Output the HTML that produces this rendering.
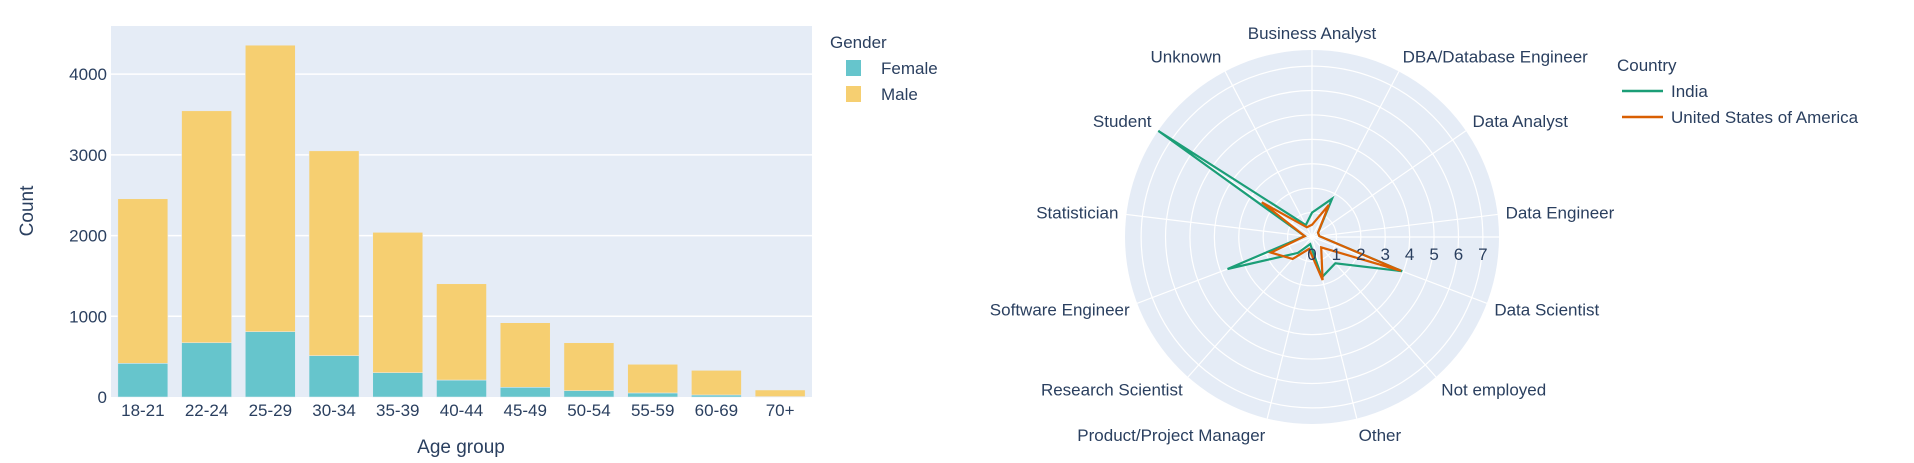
<!DOCTYPE html>
<html><head><meta charset="utf-8">
<style>
body{margin:0;background:#fff;}
svg{display:block;font-family:"Liberation Sans",sans-serif;}
</style></head>
<body>
<svg id="chart" width="1914" height="463" viewBox="0 0 1914 463">
<g id="bar"></g>
<g id="polar"></g>
</svg>
<script>
const ageGroups=["18-21","22-24","25-29","30-34","35-39","40-44","45-49","50-54","55-59","60-69","70+"];
const femaleCounts=[417,672,809,512,301,210,120,78,50,25,5];
const maleCounts=[2039,2874,3550,2538,1739,1193,800,594,355,305,82];
const yTicks=[0,1000,2000,3000,4000];
const roles=["Business Analyst","DBA/Database Engineer","Data Analyst","Data Engineer","Data Scientist","Not employed","Other","Product/Project Manager","Research Scientist","Software Engineer","Statistician","Student","Unknown"];
const indiaValues=[1.0,1.77,0.3,0.3,3.95,1.44,1.7,0.3,0.87,3.7,0.3,7.65,0.55];
const usaValues=[0.5,1.48,0.3,0.3,3.9,0.57,1.82,0.5,1.2,1.8,0.3,2.5,0.45];
const rTicks=[0,1,2,3,4,5,6,7];

const NS="http://www.w3.org/2000/svg";
const TXT="#2a3f5f";
function mk(parent,tag,attrs,text){const e=document.createElementNS(NS,tag);for(const k in attrs)e.setAttribute(k,attrs[k]);if(text!==undefined)e.textContent=text;parent.appendChild(e);return e;}

// ---- bar chart ----
const bar=document.getElementById('bar');
const PL=111,PR=812,PT=26,PB=397,YMAX=4597;
const yScale=v=>PB-v/YMAX*(PB-PT);
const band=(PR-PL)/ageGroups.length;
const xCenter=i=>PL+band*(i+0.5);
let bg=mk(bar,'rect',{x:PL,y:PT,width:PR-PL,height:PB-PT,fill:'#e5ecf6'});


yTicks.forEach(t=>{
  if(t>0){let g=mk(bar,'line',{x1:PL,x2:PR,y1:yScale(t),y2:yScale(t),stroke:'#fff','stroke-width':1.5});
  
  }
  let l=mk(bar,'text',{x:PL-4,y:yScale(t)+6,'text-anchor':'end','font-size':17,fill:TXT},String(t));
  
  
});
ageGroups.forEach((g,i)=>{
  const w=50,x=xCenter(i)-w/2;
  const f=femaleCounts[i],m=maleCounts[i];
  let r1=mk(bar,'rect',{x:x,y:yScale(f),width:w,height:PB-yScale(f),fill:'#66c5cc',stroke:'#e5ecf6','stroke-width':0.5});
  
  
  let r2=mk(bar,'rect',{x:x,y:yScale(f+m),width:w,height:yScale(f)-yScale(f+m),fill:'#f6cf71',stroke:'#e5ecf6','stroke-width':0.5});
  
  
  let l=mk(bar,'text',{x:xCenter(i),y:416,'text-anchor':'middle','font-size':17,fill:TXT},g);
  
  
});
let xt=mk(bar,'text',{x:461,y:453,'text-anchor':'middle','font-size':19,fill:TXT},'Age group');


let yt=mk(bar,'text',{x:0,y:0,'text-anchor':'middle','font-size':19,fill:TXT,transform:'translate(33,211) rotate(-90)'},'Count');


let lg=mk(bar,'text',{x:830,y:48,'font-size':17,fill:TXT},'Gender');


[['Female','#66c5cc',68],['Male','#f6cf71',94]].forEach(([n,c,y])=>{
  let s=mk(bar,'rect',{x:846,y:y-8,width:15,height:16,fill:c});
  
  
  let t=mk(bar,'text',{x:881,y:y+6,'font-size':17,fill:TXT},n);
  
  
});

// ---- polar chart ----
const pol=document.getElementById('polar');
const CX=1312,CY=237,R=187,RMAX=7.66;
const rS=v=>v/RMAX*R;
const ang=i=>(90-i*360/roles.length)*Math.PI/180;
const pt=(v,i)=>[CX+rS(v)*Math.cos(ang(i)),CY-rS(v)*Math.sin(ang(i))];
let pbg=mk(pol,'circle',{cx:CX,cy:CY,r:R,fill:'#e5ecf6'});


rTicks.forEach(t=>{if(t>0){let c=mk(pol,'circle',{cx:CX,cy:CY,r:rS(t),fill:'none',stroke:'#fff','stroke-width':1.2});
  
  }});
roles.forEach((r,i)=>{
  const [x,y]=pt(RMAX,i);
  let s=mk(pol,'line',{x1:CX,y1:CY,x2:x,y2:y,stroke:'#fff','stroke-width':1.2});
  
  
  const a=ang(i),c=Math.cos(a),sn=Math.sin(a);
  const lx=CX+(R+8)*c,ly=CY-(R+8)*sn;
  const anchor=c>0.15?'start':(c<-0.15?'end':'middle');
  const dy=6-sn*9;
  let l=mk(pol,'text',{x:lx,y:ly+dy,'text-anchor':anchor,'font-size':17,fill:TXT},r);
  
  
});
let ax=mk(pol,'line',{x1:CX,y1:CY,x2:CX+R,y2:CY,stroke:'#fff','stroke-width':1.2});


[[indiaValues,'#1b9e77','india'],[usaValues,'#d95f02','usa']].forEach(([vals,col,n])=>{
  const d=vals.map((v,i)=>{const p=pt(v,i);return (i?'L':'M')+p[0].toFixed(1)+','+p[1].toFixed(1);}).join('')+'Z';
  let p=mk(pol,'path',{d:d,fill:'none',stroke:col,'stroke-width':2.2,'stroke-linejoin':'miter'});
  
  
});
rTicks.forEach(t=>{
  let l=mk(pol,'text',{x:CX+rS(t),y:CY+23,'text-anchor':'middle','font-size':17,fill:TXT},String(t));
  
  
});
let ct=mk(pol,'text',{x:1617,y:71,'font-size':17,fill:TXT},'Country');


[['India','#1b9e77',91],['United States of America','#d95f02',117]].forEach(([n,c,y])=>{
  let s=mk(pol,'line',{x1:1622,x2:1663,y1:y,y2:y,stroke:c,'stroke-width':2.5});
  
  
  let t=mk(pol,'text',{x:1671,y:y+6,'font-size':17,fill:TXT},n);
  
  
});
</script>
</body></html>
